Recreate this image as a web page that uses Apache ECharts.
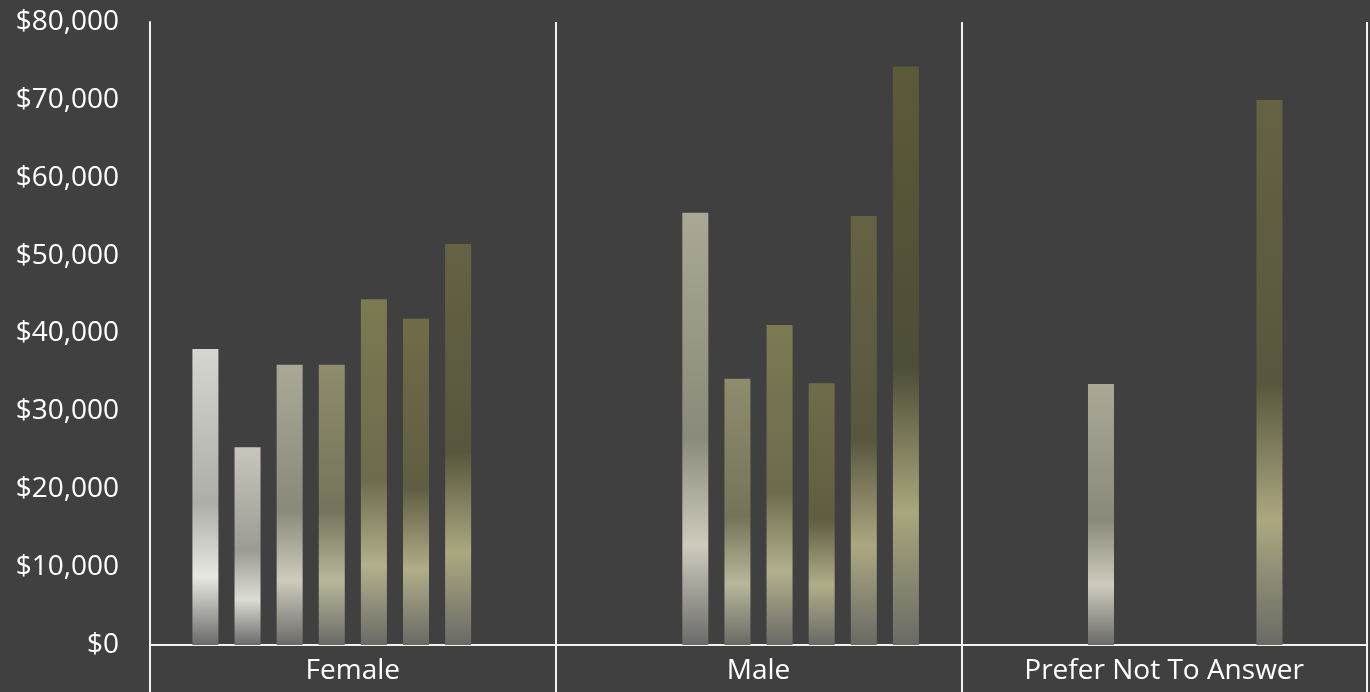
<!DOCTYPE html>
<html>
<head>
<meta charset="utf-8">
<script src="https://cdn.jsdelivr.net/npm/echarts@6/dist/echarts.min.js"></script>
<style>
  html, body { margin: 0; padding: 0; background: #404040; }
  #chart { width: 1370px; height: 692px; }
</style>
</head>
<body>
<div id="chart"></div>
<script>
// ---- Data ----
const categories = ['Female', 'Male', 'Prefer Not To Answer'];
const seriesNames = ['Group 1', 'Group 2', 'Group 3', 'Group 4', 'Group 5', 'Group 6', 'Group 7', 'Group 8'];
const group1 = [38000, null, null];
const group2 = [25400, null, null];
const group3 = [36000, 55500, 33500];
const group4 = [36000, 34200, null];
const group5 = [44400, 41100, null];
const group6 = [41900, 33600, null];
const group7 = [51500, 55100, 70000];
const group8 = [null, 74300, null];
const yTicks = { min: 0, max: 80000, interval: 10000 };

// ---- Styles (gradient stops per series: top, dark band, light band, bottom) ----
const gradientStops = [
  ['#d6d6d0', '#aeaea8', '#e8e8e2', '#6a6a6a'],
  ['#c8c6bc', '#9c9b93', '#dcdcd5', '#6a6a6a'],
  ['#aaa895', '#8a8a7a', '#cecbbd', '#6b6b69'],
  ['#8f8c6c', '#75745a', '#b8b79b', '#6a6a66'],
  ['#7c7a52', '#6d6b4b', '#b3b08c', '#6a6a66'],
  ['#6f6c48', '#605e42', '#b0ad88', '#6a6a66'],
  ['#656244', '#58573d', '#aba880', '#6a6a66'],
  ['#5c5a38', '#4e4d37', '#a9a77c', '#6a6a66']
];
const seriesData = [group1, group2, group3, group4, group5, group6, group7, group8];

const fontFamily = '"Open Sans", sans-serif';
const lineColor = '#f2f2f2';

const series = seriesData.map((d, i) => {
  const c = gradientStops[i];
  return {
    name: seriesNames[i],
    type: 'bar',
    data: d,
    barWidth: 26,
    barGap: '62%',
    itemStyle: {
      color: new echarts.graphic.LinearGradient(0, 0, 0, 1, [
        { offset: 0, color: c[0] },
        { offset: 0.52, color: c[1] },
        { offset: 0.77, color: c[2] },
        { offset: 1, color: c[3] }
      ])
    }
  };
});

const chart = echarts.init(document.getElementById('chart'));
chart.setOption({
  backgroundColor: '#404040',
  animation: false,
  grid: { left: 150, right: 3, top: 22, bottom: 47, containLabel: false },
  xAxis: {
    type: 'category',
    data: categories,
    boundaryGap: true,
    axisLine: { show: true, lineStyle: { color: lineColor, width: 2 } },
    axisTick: { show: true, length: 47, lineStyle: { color: lineColor, width: 2 } },
    splitLine: { show: true, lineStyle: { color: lineColor, width: 2 } },
    axisLabel: { color: '#ffffff', fontSize: 28, fontFamily: fontFamily, margin: 12, interval: 0 }
  },
  yAxis: {
    type: 'value',
    min: yTicks.min,
    max: yTicks.max,
    interval: yTicks.interval,
    axisLine: { show: true, lineStyle: { color: lineColor, width: 2 } },
    axisTick: { show: false },
    splitLine: { show: false },
    axisLabel: {
      color: '#ffffff',
      fontSize: 28,
      fontFamily: fontFamily,
      margin: 31,
      formatter: v => '$' + v.toLocaleString('en-US')
    }
  },
  series: series
});
</script>
</body>
</html>
